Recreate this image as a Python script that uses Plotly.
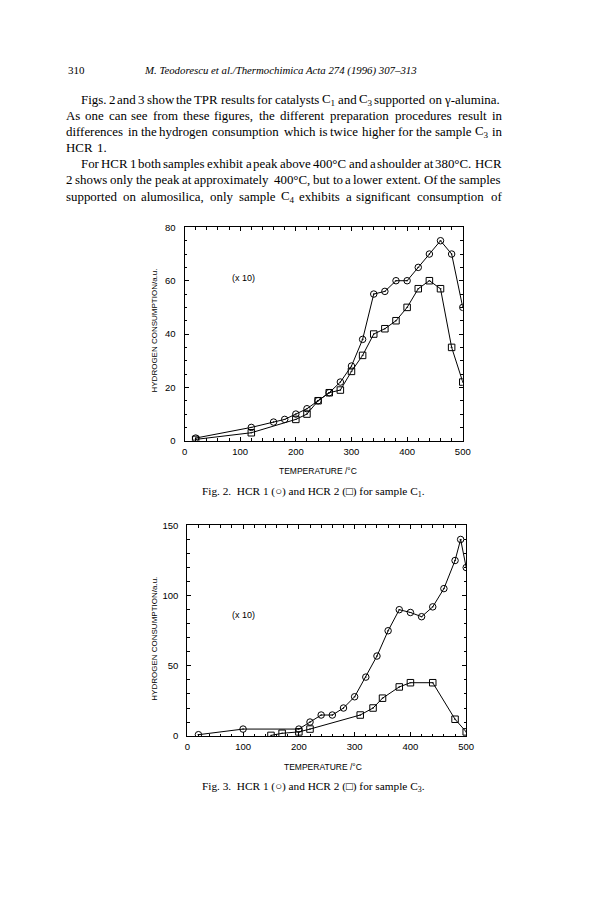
import plotly.graph_objects as go

W, H = 615, 903

# ---------------- data ----------------
f2_hcr1_x = [20, 120, 160, 180, 200, 220, 240, 260, 280, 300, 320, 340, 360, 380, 400, 420, 440, 460, 480, 500]
f2_hcr1_y = [1, 5, 7, 8, 10, 12, 15, 18, 22, 28, 38, 55, 56, 60, 60, 65, 70, 75, 70, 50]
f2_hcr2_x = [20, 120, 200, 220, 240, 260, 280, 300, 320, 340, 360, 380, 400, 420, 440, 460, 480, 500]
f2_hcr2_y = [0.5, 3, 8, 10, 15, 18, 19, 26, 32, 40, 42, 45, 50, 57, 60, 57, 35, 22]

f3_hcr1_x = [20, 100, 200, 220, 240, 260, 280, 300, 320, 340, 360, 380, 400, 420, 440, 460, 480, 490, 500]
f3_hcr1_y = [1, 5, 5, 10, 15, 15, 20, 28, 42, 57, 75, 90, 88, 85, 92, 105, 125, 140, 120]
f3_hcr2_x = [150, 170, 200, 220, 310, 333, 350, 380, 400, 440, 480, 500]
f3_hcr2_y = [0.5, 2, 3, 5, 15, 20, 27, 35, 38, 38, 12, 3]

x_ticks = [0, 100, 200, 300, 400, 500]
f2_y_ticks = [0, 20, 40, 60, 80]
f3_y_ticks = [0, 50, 100, 150]

header_page = "310"
header_title = "M. Teodorescu et al./Thermochimica Acta 274 (1996) 307\u2013313"
para_lines = [
    ("Figs. 2 and 3 show the TPR results for catalysts C<sub>1</sub> and C<sub>3</sub> supported on \u03b3-alumina.", True, True),
    ("As one can see from these figures, the different preparation procedures result in", False, True),
    ("differences in the hydrogen consumption which is twice higher for the sample C<sub>3</sub> in", False, True),
    ("HCR 1.", False, False),
    ("For HCR 1 both samples exhibit a peak above 400\u00b0C and a shoulder at 380\u00b0C. HCR", True, True),
    ("2 shows only the peak at approximately 400\u00b0C, but to a lower extent. Of the samples", False, True),
    ("supported on alumosilica, only sample C<sub>4</sub> exhibits a significant consumption of", False, True),
]
cap2 = "Fig. 2.  HCR 1 (\u25cb) and HCR 2 (\u25a1) for sample C<sub>1</sub>."
cap3 = "Fig. 3.  HCR 1 (\u25cb) and HCR 2 (\u25a1) for sample C<sub>3</sub>."
ytitle = "HYDROGEN CONSUMPTION/a.u."
xtitle = "TEMPERATURE /\u00b0C"
mult = "(x 10)"

# ---------------- layout helpers ----------------
def px(x):
    return x / W

def py(y):
    return 1 - y / H

TIMES = {' ': 250, 'a': 444, 'b': 500, 'c': 444, 'd': 500, 'e': 444, 'f': 333, 'g': 500, 'h': 500,
         'i': 278, 'j': 278, 'k': 500, 'l': 278, 'm': 778, 'n': 500, 'o': 500, 'p': 500, 'q': 500,
         'r': 333, 's': 389, 't': 278, 'u': 500, 'v': 500, 'w': 722, 'x': 500, 'y': 500, 'z': 444,
         'A': 722, 'B': 667, 'C': 667, 'D': 722, 'E': 611, 'F': 556, 'G': 722, 'H': 722, 'I': 333,
         'J': 389, 'K': 722, 'L': 611, 'M': 889, 'N': 722, 'O': 722, 'P': 556, 'Q': 722, 'R': 667,
         'S': 556, 'T': 611, 'U': 722, 'V': 722, 'W': 944, 'X': 722, 'Y': 722, 'Z': 611,
         '.': 250, ',': 250, '-': 333, '\u00b0': 400, '(': 333, ')': 333, '/': 278, '\u03b3': 560}
RENDER_FACTOR = 1.055  # hinting makes rendered advances a bit wider than nominal metrics

def word_width(w, size):
    total = 0.0
    i = 0
    sub = False
    while i < len(w):
        if w.startswith("<sub>", i):
            sub = True; i += 5; continue
        if w.startswith("</sub>", i):
            sub = False; i += 6; continue
        c = w[i]
        wd = TIMES.get(c, 500)
        total += wd * (0.72 if sub else 1.0)
        i += 1
    return total * size / 1000.0 * RENDER_FACTOR

TEXT_L, TEXT_R = 56, 500
INDENT = 15
LINE_Y0, LINE_DY = 87, 16.3
MIN_GAP_EM = 0.11

cands = []
for line, indent, justify in para_lines:
    if not justify:
        continue
    words = line.split(" ")
    avail = TEXT_R - TEXT_L - (INDENT if indent else 0)
    unit = sum(word_width(w, 1.0) for w in words) + (len(words) - 1) * MIN_GAP_EM
    cands.append(avail / unit)
FS = min(min(cands), 13.2)

fig = go.Figure()

def add_series(xs, ys, sym, xa, ya):
    fig.add_trace(go.Scatter(x=xs, y=ys, mode="lines+markers", xaxis=xa, yaxis=ya,
                             line=dict(color="black", width=1),
                             marker=dict(symbol=sym, size=6.5, color="black", line=dict(width=1))))

add_series(f2_hcr1_x, f2_hcr1_y, "circle-open-dot", "x", "y")
add_series(f2_hcr2_x, f2_hcr2_y, "square-open-dot", "x", "y")
add_series(f3_hcr1_x, f3_hcr1_y, "circle-open-dot", "x2", "y2")
add_series(f3_hcr2_x, f3_hcr2_y, "square-open-dot", "x2", "y2")

tickfont = dict(family="Liberation Sans", size=9.5, color="black")

def xaxis_cfg(domain, anchor):
    return dict(domain=domain, anchor=anchor, range=[0, 500], tickvals=x_ticks,
                ticks="inside", ticklen=4, tickcolor="black", showline=True, linecolor="black",
                linewidth=1, mirror="ticks", showgrid=False, zeroline=False, tickfont=tickfont,
                ticklabelstandoff=2,
                minor=dict(dtick=20, ticks="inside", ticklen=2.5, tickcolor="black"))

def yaxis_cfg(domain, anchor, rng, ticks, minor):
    return dict(domain=domain, anchor=anchor, range=rng, tickvals=ticks,
                ticks="inside", ticklen=4, tickcolor="black", showline=True, linecolor="black",
                linewidth=1, mirror="ticks", showgrid=False, zeroline=False, tickfont=tickfont,
                ticklabelstandoff=6,
                minor=dict(dtick=minor, ticks="inside", ticklen=2.5, tickcolor="black"))

fig.update_layout(
    xaxis=xaxis_cfg([px(176.7), px(460)], "y"),
    yaxis=yaxis_cfg([py(432), py(216)], "x", [0, 80], f2_y_ticks, 5),
    xaxis2=xaxis_cfg([px(179.5), px(463.5)], "y2"),
    yaxis2=yaxis_cfg([py(731), py(517.7)], "x2", [0, 150], f3_y_ticks, 10),
)

ann = []
serif = "Liberation Serif"
ann.append(dict(text=header_page, x=px(56), y=py(57), xref="paper", yref="paper", xanchor="left",
                yanchor="middle", showarrow=False, font=dict(family=serif, size=11, color="black")))
ann.append(dict(text="<i>" + header_title + "</i>", x=px(274), y=py(57), xref="paper", yref="paper",
                xanchor="center", yanchor="middle", showarrow=False,
                font=dict(family=serif, size=10.8, color="black")))

for k, (line, indent, justify) in enumerate(para_lines):
    yy = LINE_Y0 + k * LINE_DY
    left = TEXT_L + (INDENT if indent else 0)
    words = line.split(" ")
    widths = [word_width(w, FS) for w in words]
    if justify and len(words) > 1:
        gap = (TEXT_R - left - sum(widths)) / (len(words) - 1)
    else:
        gap = TIMES[' '] * FS / 1000.0
    xx = left
    for w, wd in zip(words, widths):
        ann.append(dict(text=w, x=px(xx), y=py(yy), xref="paper", yref="paper", xanchor="left",
                        yanchor="middle", showarrow=False, borderpad=0, borderwidth=0,
                        font=dict(family=serif, size=FS, color="black")))
        xx += wd + gap

sans = "Liberation Sans"
for (yc, xc) in [(320, 146), (632, 146)]:
    ann.append(dict(text=ytitle, x=px(xc), y=py(yc), xref="paper", yref="paper", textangle=-90,
                    xanchor="center", yanchor="middle", showarrow=False,
                    font=dict(family=sans, size=8, color="black")))
ann.append(dict(text=xtitle, x=px(313), y=py(463), xref="paper", yref="paper", xanchor="center",
                yanchor="middle", showarrow=False, font=dict(family=sans, size=8.5, color="black")))
ann.append(dict(text=xtitle, x=px(318), y=py(762), xref="paper", yref="paper", xanchor="center",
                yanchor="middle", showarrow=False, font=dict(family=sans, size=8.5, color="black")))
ann.append(dict(text=mult, x=106, y=61, xref="x", yref="y", xanchor="center", yanchor="middle",
                showarrow=False, font=dict(family=sans, size=9, color="black")))
ann.append(dict(text=mult, x=101, y=86, xref="x2", yref="y2", xanchor="center", yanchor="middle",
                showarrow=False, font=dict(family=sans, size=9, color="black")))
ann.append(dict(text=cap2, x=px(308), y=py(484), xref="paper", yref="paper", xanchor="center",
                yanchor="middle", showarrow=False, font=dict(family=serif, size=11.3, color="black")))
ann.append(dict(text=cap3, x=px(308), y=py(783), xref="paper", yref="paper", xanchor="center",
                yanchor="middle", showarrow=False, font=dict(family=serif, size=11.3, color="black")))

fig.update_layout(
    width=W, height=H, margin=dict(l=0, r=0, t=0, b=0),
    paper_bgcolor="white", plot_bgcolor="white", showlegend=False,
    annotations=ann,
)

fig.write_html("out.html")
